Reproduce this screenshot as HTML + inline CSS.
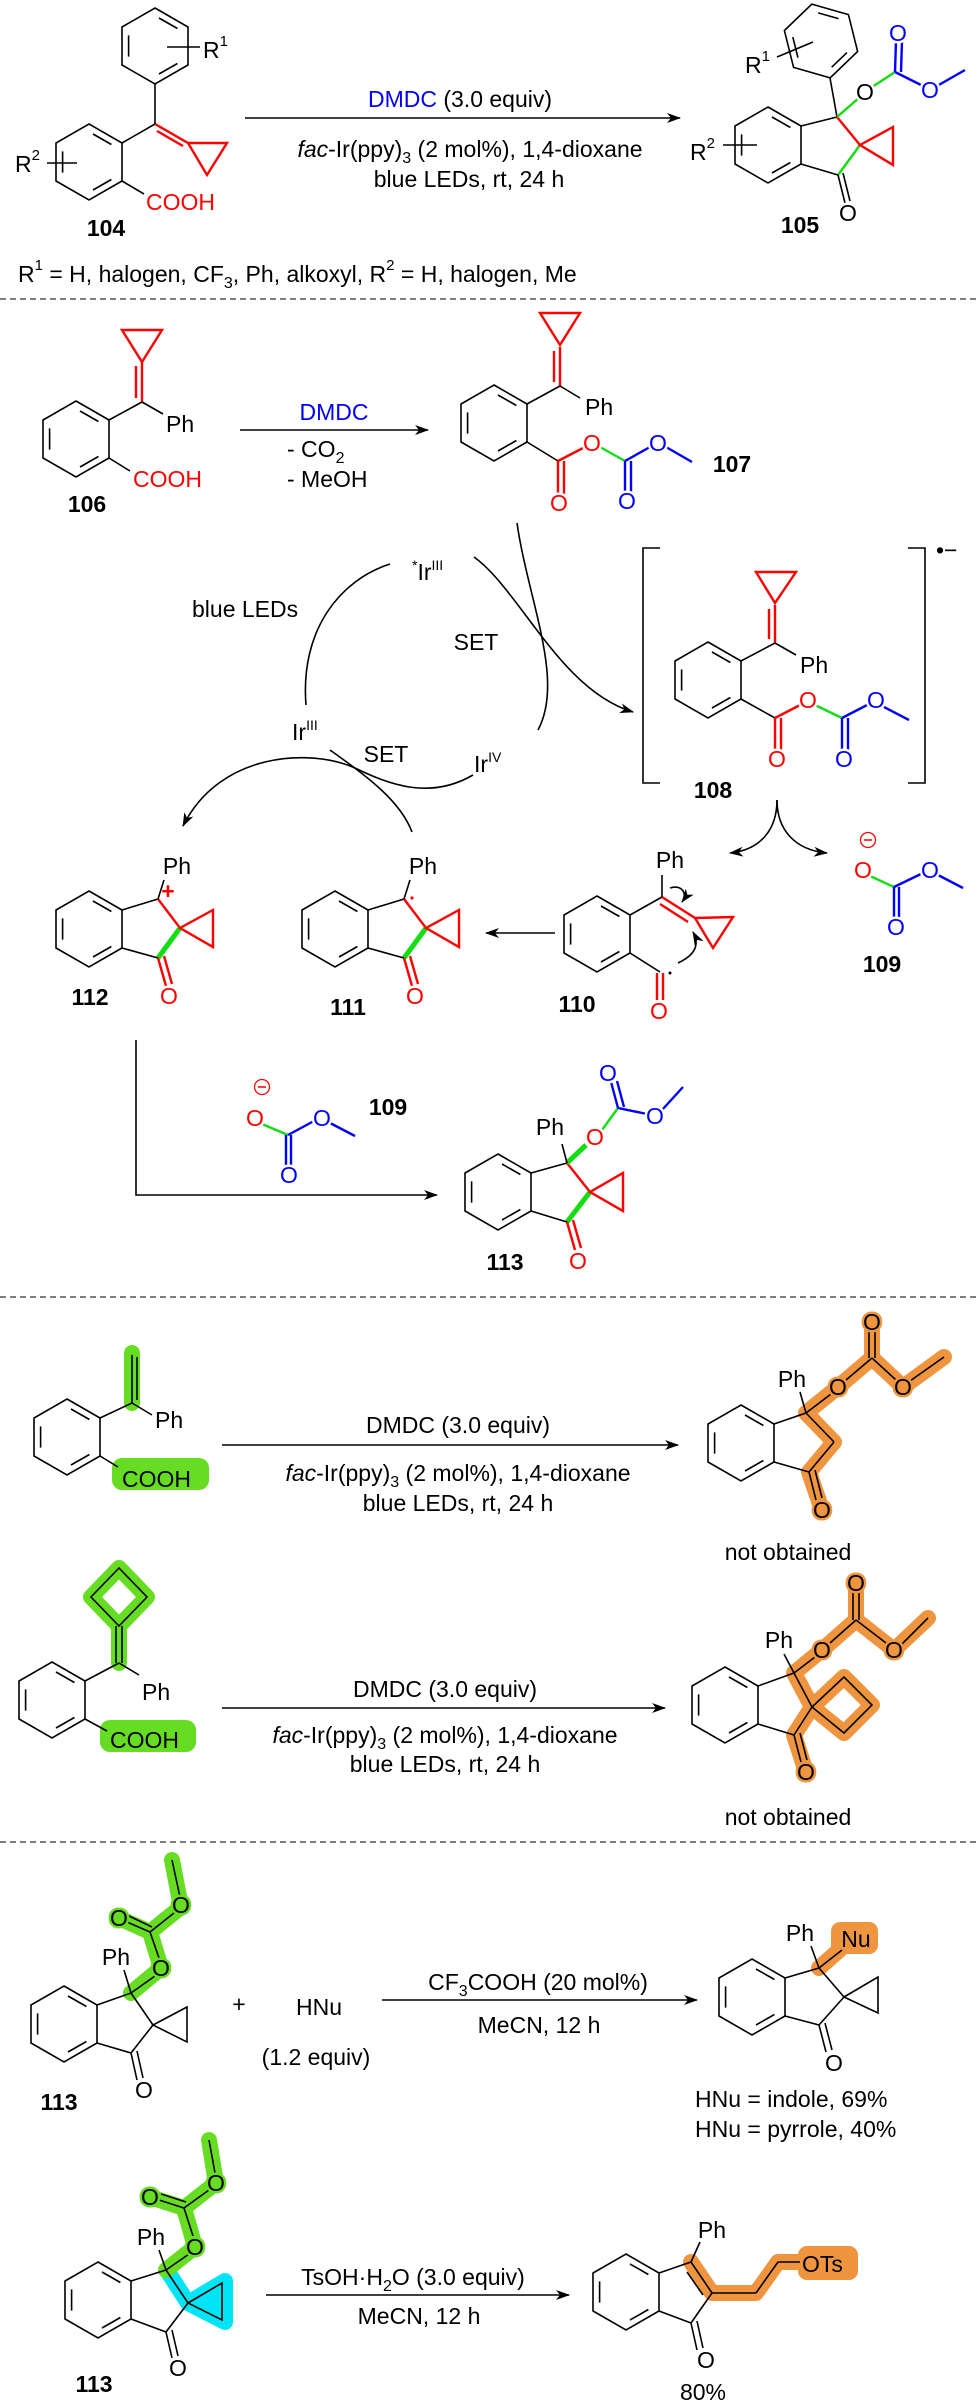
<!DOCTYPE html>
<html><head><meta charset="utf-8"><style>
html,body{margin:0;padding:0;background:#fff}
svg{display:block}
text{font-family:"Liberation Sans",Arial,sans-serif;font-size:23px}
.b{font-weight:bold}
.a{text-anchor:middle;dominant-baseline:central;paint-order:stroke;stroke:#fff;stroke-width:5px}
.m{text-anchor:middle}
.k{stroke:#000;stroke-width:1.6;fill:none}
.r{stroke:#f00;stroke-width:2.4;fill:none}
.bl{stroke:#00f;stroke-width:2.4;fill:none}
.g{stroke:#11dd11;stroke-width:2.4;fill:none}
.G{stroke:#11dd11;stroke-width:5;fill:none}
.hg{stroke:#66dd22;stroke-width:16;fill:none;stroke-linecap:round;stroke-linejoin:round}
.ho{stroke:#f0953f;stroke-width:16;fill:none;stroke-linecap:round;stroke-linejoin:round}
.hc{stroke:#00e5f5;stroke-width:16;fill:#00e5f5;stroke-linecap:round;stroke-linejoin:round}
.dash{stroke:#555;stroke-width:1.5;stroke-dasharray:6,4}
</style></head><body>
<svg width="980" height="2404" viewBox="0 0 980 2404" xmlns="http://www.w3.org/2000/svg">
<defs>
<g id="bz" fill="none" stroke="#000" stroke-width="1.6">
<polygon points="0,-38 33,-19 33,19 0,38 -33,19 -33,-19"/>
<line x1="4" y1="-28" x2="22.4" y2="-17.5"/>
<line x1="22.4" y1="17.5" x2="4" y2="28"/>
<line x1="-26.4" y1="10.6" x2="-26.4" y2="-10.6"/>
</g>
<marker id="ah" markerWidth="14" markerHeight="10" refX="13" refY="5" orient="auto" markerUnits="userSpaceOnUse"><path d="M0,0 L14,5 L0,10 L4,5Z" fill="#000"/></marker>
</defs>

<!-- ===== Section 1 ===== -->
<use href="#bz" x="155" y="46"/>
<line class="k" x1="167" y1="47" x2="200" y2="47"/>
<text x="203" y="58">R<tspan font-size="15" dy="-12">1</tspan></text>
<line class="k" x1="155" y1="84" x2="155" y2="124"/>
<use href="#bz" x="89" y="162"/>
<line class="k" x1="122" y1="143" x2="155" y2="124"/>
<line class="r" x1="155" y1="124" x2="188" y2="143"/>
<line class="r" x1="157" y1="131" x2="183" y2="146"/>
<polygon class="r" points="188,143 227,143 207,175"/>
<line class="k" x1="122" y1="181" x2="144" y2="194"/>
<text x="146" y="210" fill="#f00">COOH</text>
<text x="15" y="172">R<tspan font-size="15" dy="-12">2</tspan></text>
<line class="k" x1="47" y1="163" x2="77" y2="163"/>
<text x="106" y="236" class="b m">104</text>

<line class="k" x1="245" y1="118" x2="680" y2="118" marker-end="url(#ah)"/>
<text x="460" y="107" class="m"><tspan fill="#00f">DMDC</tspan> (3.0 equiv)</text>
<text x="470" y="157" class="m"><tspan font-style="italic">fac</tspan>-Ir(ppy)<tspan font-size="16" dy="6">3</tspan><tspan dy="-6"> (2 mol%), 1,4-dioxane</tspan></text>
<text x="469" y="187" class="m">blue LEDs, rt, 24 h</text>

<g transform="translate(821,41) rotate(-14)"><use href="#bz"/></g>
<line class="k" x1="830" y1="78" x2="837" y2="117"/>
<line class="k" x1="777" y1="57" x2="813" y2="42"/>
<text x="745" y="73">R<tspan font-size="15" dy="-12">1</tspan></text>
<g transform="translate(768,145)">
<use href="#bz"/>
<line class="k" x1="33" y1="-19" x2="69" y2="-28"/>
<line class="r" x1="69" y1="-28" x2="92" y2="0"/>
<line class="g" x1="92" y1="0" x2="70" y2="30"/>
<line class="k" x1="70" y1="30" x2="33" y2="19"/>
<line class="k" x1="70" y1="30" x2="77" y2="58"/>
<line class="k" x1="75" y1="28" x2="82" y2="56"/>
<polygon class="r" points="92,0 125,-18 125,20"/>
<line class="g" x1="69" y1="-28" x2="92" y2="-48"/>
<line class="g" x1="104" y1="-58" x2="127" y2="-73"/>
<line class="bl" x1="127" y1="-73" x2="128" y2="-104"/>
<line class="bl" x1="133" y1="-73" x2="134" y2="-104"/>
<line class="bl" x1="127" y1="-73" x2="155" y2="-59"/>
<line class="bl" x1="169" y1="-59" x2="197" y2="-75"/>
<text x="80" y="68" class="a">O</text>
<text x="97" y="-53" class="a">O</text>
<text x="130" y="-112" class="a" fill="#00f">O</text>
<text x="162" y="-55" class="a" fill="#00f">O</text>
</g>
<text x="690" y="160">R<tspan font-size="15" dy="-12">2</tspan></text>
<line class="k" x1="723" y1="145" x2="757" y2="145"/>
<text x="800" y="233" class="b m">105</text>
<text x="18" y="282">R<tspan font-size="15" dy="-12">1</tspan><tspan dy="12"> = H, halogen, CF</tspan><tspan font-size="16" dy="6">3</tspan><tspan dy="-6">, Ph, alkoxyl, R</tspan><tspan font-size="15" dy="-12">2</tspan><tspan dy="12"> = H, halogen, Me</tspan></text>
<line class="dash" x1="0" y1="299" x2="980" y2="299"/>

<!-- ===== Section 2 ===== -->
<use href="#bz" x="76" y="439"/>
<line class="k" x1="109" y1="420" x2="142" y2="402"/>
<line class="r" x1="142" y1="402" x2="142" y2="362"/>
<line class="r" x1="136" y1="398" x2="136" y2="366"/>
<polygon class="r" points="122,330 162,330 142,362"/>
<line class="k" x1="142" y1="402" x2="163" y2="414"/>
<text x="166" y="432">Ph</text>
<line class="k" x1="109" y1="458" x2="130" y2="471"/>
<text x="133" y="487" fill="#f00">COOH</text>
<text x="87" y="512" class="b m">106</text>
<line class="k" x1="240" y1="430" x2="428" y2="430" marker-end="url(#ah)"/>
<text x="334" y="420" class="m" fill="#00f">DMDC</text>
<text x="287" y="457">- CO<tspan font-size="16" dy="6">2</tspan></text>
<text x="287" y="487">- MeOH</text>

<use href="#bz" x="494" y="423"/>
<line class="k" x1="527" y1="404" x2="560" y2="386"/>
<line class="r" x1="560" y1="386" x2="560" y2="347"/>
<line class="r" x1="554" y1="382" x2="554" y2="351"/>
<polygon class="r" points="540,313 580,313 560,345"/>
<line class="k" x1="560" y1="386" x2="580" y2="398"/>
<text x="585" y="415">Ph</text>
<line class="k" x1="527" y1="442" x2="558" y2="461"/>
<line class="r" x1="558" y1="461" x2="558" y2="494"/>
<line class="r" x1="564" y1="461" x2="564" y2="494"/>
<line class="r" x1="558" y1="461" x2="585" y2="447"/>
<line class="g" x1="600" y1="447" x2="625" y2="461"/>
<line class="bl" x1="625" y1="461" x2="625" y2="493"/>
<line class="bl" x1="631" y1="461" x2="631" y2="493"/>
<line class="bl" x1="625" y1="461" x2="650" y2="447"/>
<line class="bl" x1="666" y1="447" x2="692" y2="462"/>
<text x="559" y="503" class="a" fill="#f00">O</text>
<text x="592" y="443" class="a" fill="#f00">O</text>
<text x="627" y="501" class="a" fill="#00f">O</text>
<text x="658" y="443" class="a" fill="#00f">O</text>
<text x="732" y="472" class="b m">107</text>

<!-- cycle -->
<path class="k" d="M390,564 C340,580 300,630 306,705"/>
<path class="k" d="M517,523 C528,600 565,680 538,730"/>
<path class="k" d="M474,557 C520,590 560,690 633,712" marker-end="url(#ah)"/>
<path class="k" d="M330,750 C365,775 400,800 412,832"/>
<path class="k" d="M473,775 C430,800 390,785 355,768 C310,748 220,752 183,826" marker-end="url(#ah)"/>
<text x="412" y="580"><tspan font-size="14" dy="-10">*</tspan><tspan dy="10">Ir</tspan><tspan font-size="14" dy="-10">III</tspan></text>
<text x="192" y="617">blue LEDs</text>
<text x="292" y="740">Ir<tspan font-size="14" dy="-10">III</tspan></text>
<text x="476" y="650" class="m">SET</text>
<text x="386" y="762" class="m">SET</text>
<text x="474" y="772">Ir<tspan font-size="14" dy="-10">IV</tspan></text>

<!-- 108 -->
<path class="k" d="M660,548 H643 V783 H660"/>
<path class="k" d="M908,548 H925 V783 H908"/>
<text x="936" y="558" font-size="18">•−</text>
<use href="#bz" x="708" y="680"/>
<line class="k" x1="741" y1="661" x2="775" y2="643"/>
<line class="r" x1="775" y1="643" x2="775" y2="605"/>
<line class="r" x1="769" y1="639" x2="769" y2="609"/>
<polygon class="r" points="756,572 796,572 775,603"/>
<line class="k" x1="775" y1="643" x2="796" y2="655"/>
<text x="800" y="673">Ph</text>
<line class="k" x1="741" y1="699" x2="775" y2="718"/>
<line class="r" x1="775" y1="718" x2="775" y2="750"/>
<line class="r" x1="781" y1="718" x2="781" y2="750"/>
<line class="r" x1="775" y1="718" x2="802" y2="704"/>
<line class="g" x1="815" y1="705" x2="842" y2="718"/>
<line class="bl" x1="842" y1="718" x2="842" y2="750"/>
<line class="bl" x1="848" y1="718" x2="848" y2="750"/>
<line class="bl" x1="842" y1="718" x2="869" y2="704"/>
<line class="bl" x1="884" y1="707" x2="909" y2="720"/>
<text x="777" y="759" class="a" fill="#f00">O</text>
<text x="808" y="700" class="a" fill="#f00">O</text>
<text x="844" y="759" class="a" fill="#00f">O</text>
<text x="876" y="700" class="a" fill="#00f">O</text>
<text x="713" y="798" class="b m">108</text>
<path class="k" d="M777,800 C777,830 760,850 730,853" marker-end="url(#ah)"/>
<path class="k" d="M777,800 C777,830 795,850 827,853" marker-end="url(#ah)"/>

<!-- 109 right -->
<circle cx="868" cy="840" r="7.5" fill="none" stroke="#f00" stroke-width="1.3"/>
<line x1="864" y1="840" x2="872" y2="840" stroke="#f00" stroke-width="1.5"/>
<line class="g" x1="870" y1="876" x2="894" y2="887"/>
<line class="bl" x1="894" y1="887" x2="894" y2="918"/>
<line class="bl" x1="899" y1="887" x2="899" y2="918"/>
<line class="bl" x1="894" y1="887" x2="923" y2="873"/>
<line class="bl" x1="938" y1="875" x2="963" y2="888"/>
<text x="863" y="870" class="a" fill="#f00">O</text>
<text x="896" y="927" class="a" fill="#00f">O</text>
<text x="930" y="870" class="a" fill="#00f">O</text>
<text x="882" y="972" class="b m">109</text>

<!-- 110 -->
<use href="#bz" x="597" y="934"/>
<line class="k" x1="630" y1="915" x2="662" y2="897"/>
<line class="k" x1="662" y1="897" x2="662" y2="875"/>
<text x="670" y="868" class="m">Ph</text>
<line class="r" x1="662" y1="897" x2="695" y2="918"/>
<line class="r" x1="660" y1="904" x2="688" y2="922"/>
<polygon class="r" points="695,918 733,917 713,948"/>
<line class="k" x1="630" y1="953" x2="660" y2="972"/>
<line class="r" x1="657" y1="973" x2="657" y2="1000"/>
<line class="r" x1="663" y1="973" x2="663" y2="1000"/>
<text x="659" y="1011" class="a" fill="#f00">O</text>
<circle cx="670" cy="973" r="1.5" fill="#000"/>
<path class="k" stroke-width="1.2" d="M670,888 C682,884 688,894 682,902" marker-end="url(#ah)"/>
<path class="k" stroke-width="1.2" d="M678,963 C695,955 700,945 693,932" marker-end="url(#ah)"/>
<text x="577" y="1012" class="b m">110</text>
<line class="k" x1="555" y1="933" x2="486" y2="933" marker-end="url(#ah)"/>

<!-- 111 -->
<g transform="translate(335,929)">
<use href="#bz"/>
<line class="k" x1="33" y1="-19" x2="69" y2="-30"/>
<line class="r" x1="69" y1="-30" x2="91" y2="-1"/>
<line class="G" x1="91" y1="-1" x2="69" y2="29"/>
<line class="k" x1="69" y1="29" x2="33" y2="19"/>
<line class="r" x1="69" y1="29" x2="77" y2="57"/>
<line class="r" x1="75" y1="27" x2="83" y2="55"/>
<polygon class="r" points="91,-1 124,-19 124,18"/>
<line class="k" x1="69" y1="-30" x2="75" y2="-49"/>
<text x="88" y="-55" class="m">Ph</text>
<text x="80" y="67" class="a" fill="#f00">O</text>
<circle cx="77" cy="-31" r="1.6" fill="#f00"/>
</g>
<text x="348" y="1015" class="b m">111</text>

<!-- 112 -->
<g transform="translate(89,929)">
<use href="#bz"/>
<line class="k" x1="33" y1="-19" x2="69" y2="-30"/>
<line class="r" x1="69" y1="-30" x2="91" y2="-1"/>
<line class="G" x1="91" y1="-1" x2="69" y2="29"/>
<line class="k" x1="69" y1="29" x2="33" y2="19"/>
<line class="r" x1="69" y1="29" x2="77" y2="57"/>
<line class="r" x1="75" y1="27" x2="83" y2="55"/>
<polygon class="r" points="91,-1 124,-19 124,18"/>
<line class="k" x1="69" y1="-30" x2="75" y2="-49"/>
<text x="88" y="-55" class="m">Ph</text>
<text x="80" y="67" class="a" fill="#f00">O</text>
<text x="79" y="-30" class="m b" fill="#f00" font-size="16">+</text>
</g>
<text x="90" y="1005" class="b m">112</text>

<path class="k" d="M136,1040 V1195 H437" marker-end="url(#ah)"/>
<!-- 109 mid -->
<circle cx="262" cy="1087" r="7.5" fill="none" stroke="#f00" stroke-width="1.3"/>
<line x1="258" y1="1087" x2="266" y2="1087" stroke="#f00" stroke-width="1.5"/>
<line class="g" x1="262" y1="1124" x2="288" y2="1135"/>
<line class="bl" x1="286" y1="1135" x2="286" y2="1166"/>
<line class="bl" x1="291" y1="1135" x2="291" y2="1166"/>
<line class="bl" x1="288" y1="1135" x2="314" y2="1121"/>
<line class="bl" x1="330" y1="1123" x2="355" y2="1136"/>
<text x="255" y="1118" class="a" fill="#f00">O</text>
<text x="289" y="1175" class="a" fill="#00f">O</text>
<text x="322" y="1118" class="a" fill="#00f">O</text>
<text x="388" y="1115" class="b m">109</text>

<!-- 113 main -->
<g transform="translate(498,1192)">
<use href="#bz"/>
<line class="k" x1="33" y1="-19" x2="69" y2="-29"/>
<line class="r" x1="69" y1="-29" x2="92" y2="0"/>
<line class="G" x1="92" y1="0" x2="69" y2="30"/>
<line class="k" x1="69" y1="30" x2="33" y2="19"/>
<line class="r" x1="69" y1="30" x2="77" y2="58"/>
<line class="r" x1="75" y1="28" x2="83" y2="56"/>
<polygon class="r" points="92,0 125,-19 125,19"/>
<line class="G" x1="69" y1="-29" x2="88" y2="-47"/>
<line class="g" x1="104" y1="-62" x2="120" y2="-84"/>
<line class="bl" x1="120" y1="-84" x2="113" y2="-110"/>
<line class="bl" x1="126" y1="-85" x2="119" y2="-111"/>
<line class="bl" x1="120" y1="-84" x2="149" y2="-78"/>
<line class="bl" x1="164" y1="-82" x2="185" y2="-105"/>
<line class="k" x1="69" y1="-29" x2="64" y2="-48"/>
<text x="52" y="-57" class="m">Ph</text>
<text x="80" y="69" class="a" fill="#f00">O</text>
<text x="97" y="-55" class="a" fill="#f00">O</text>
<text x="110" y="-119" class="a" fill="#00f">O</text>
<text x="157" y="-76" class="a" fill="#00f">O</text>
</g>
<text x="505" y="1270" class="b m">113</text>
<line class="dash" x1="0" y1="1297" x2="980" y2="1297"/>

<!-- ===== Section 3 ===== -->
<line class="hg" x1="132" y1="1353" x2="132" y2="1403"/>
<rect x="112" y="1458" width="97" height="32" rx="10" fill="#66dd22"/>
<use href="#bz" x="67" y="1437"/>
<line class="k" x1="100" y1="1418" x2="132" y2="1403"/>
<line class="k" x1="132" y1="1403" x2="132" y2="1355"/>
<line class="k" x1="137" y1="1400" x2="137" y2="1357"/>
<line class="k" x1="132" y1="1403" x2="152" y2="1415"/>
<text x="155" y="1428">Ph</text>
<line class="k" x1="100" y1="1456" x2="118" y2="1467"/>
<text x="122" y="1487">COOH</text>
<line class="k" x1="222" y1="1445" x2="678" y2="1445" marker-end="url(#ah)"/>
<text x="458" y="1433" class="m">DMDC (3.0 equiv)</text>
<text x="458" y="1481" class="m"><tspan font-style="italic">fac</tspan>-Ir(ppy)<tspan font-size="16" dy="6">3</tspan><tspan dy="-6"> (2 mol%), 1,4-dioxane</tspan></text>
<text x="458" y="1511" class="m">blue LEDs, rt, 24 h</text>

<path class="ho" d="M806,1413 L838,1387 L872,1358 L872,1322 M872,1358 L903,1387 L944,1357 M806,1413 L834,1442 L809,1472 L822,1510"/>
<use href="#bz" x="741" y="1443"/>
<line class="k" x1="774" y1="1424" x2="806" y2="1413"/>
<line class="k" x1="806" y1="1413" x2="834" y2="1442"/>
<line class="k" x1="834" y1="1442" x2="809" y2="1472"/>
<line class="k" x1="809" y1="1472" x2="774" y2="1462"/>
<line class="k" x1="809" y1="1472" x2="816" y2="1500"/>
<line class="k" x1="815" y1="1470" x2="822" y2="1498"/>
<line class="k" x1="806" y1="1413" x2="831" y2="1394"/>
<line class="k" x1="846" y1="1380" x2="872" y2="1358"/>
<line class="k" x1="869" y1="1358" x2="869" y2="1332"/>
<line class="k" x1="875" y1="1358" x2="875" y2="1332"/>
<line class="k" x1="872" y1="1358" x2="896" y2="1380"/>
<line class="k" x1="910" y1="1381" x2="944" y2="1357"/>
<line class="k" x1="806" y1="1413" x2="800" y2="1392"/>
<text x="792" y="1387" class="m">Ph</text>
<text x="822" y="1510" class="a" style="stroke:#f0953f">O</text>
<text x="838" y="1387" class="a" style="stroke:#f0953f">O</text>
<text x="872" y="1322" class="a" style="stroke:#f0953f">O</text>
<text x="903" y="1387" class="a" style="stroke:#f0953f">O</text>
<text x="788" y="1560" class="m">not obtained</text>

<path class="hg" d="M119,1568 L147,1597 L119,1626 L91,1597 Z M119,1626 L119,1663"/>
<polygon class="k" points="119,1568 147,1597 119,1626 91,1597"/>
<rect x="100" y="1720" width="96" height="32" rx="10" fill="#66dd22"/>
<line class="k" x1="116" y1="1626" x2="116" y2="1663"/>
<line class="k" x1="122" y1="1626" x2="122" y2="1663"/>
<use href="#bz" x="52" y="1700"/>
<line class="k" x1="85" y1="1681" x2="119" y2="1663"/>
<line class="k" x1="119" y1="1663" x2="139" y2="1675"/>
<text x="142" y="1700">Ph</text>
<line class="k" x1="85" y1="1719" x2="107" y2="1731"/>
<text x="110" y="1748">COOH</text>
<line class="k" x1="222" y1="1708" x2="665" y2="1708" marker-end="url(#ah)"/>
<text x="445" y="1697" class="m">DMDC (3.0 equiv)</text>
<text x="445" y="1743" class="m"><tspan font-style="italic">fac</tspan>-Ir(ppy)<tspan font-size="16" dy="6">3</tspan><tspan dy="-6"> (2 mol%), 1,4-dioxane</tspan></text>
<text x="445" y="1772" class="m">blue LEDs, rt, 24 h</text>

<path class="ho" d="M794,1673 L822,1650 L856,1620 L856,1583 M856,1620 L894,1650 L928,1618 M794,1673 L812,1707 L794,1735 L806,1772 M812,1707 L844,1677 L872,1705 L844,1733 Z"/>
<use href="#bz" x="725" y="1705"/>
<line class="k" x1="758" y1="1686" x2="794" y2="1673"/>
<line class="k" x1="794" y1="1673" x2="812" y2="1707"/>
<line class="k" x1="812" y1="1707" x2="794" y2="1735"/>
<line class="k" x1="794" y1="1735" x2="758" y2="1724"/>
<line class="k" x1="794" y1="1735" x2="801" y2="1762"/>
<line class="k" x1="800" y1="1733" x2="807" y2="1760"/>
<polygon class="k" points="812,1707 844,1677 872,1705 844,1733"/>
<line class="k" x1="794" y1="1673" x2="815" y2="1657"/>
<line class="k" x1="830" y1="1643" x2="856" y2="1620"/>
<line class="k" x1="853" y1="1620" x2="853" y2="1593"/>
<line class="k" x1="859" y1="1620" x2="859" y2="1593"/>
<line class="k" x1="856" y1="1620" x2="886" y2="1643"/>
<line class="k" x1="902" y1="1644" x2="928" y2="1618"/>
<line class="k" x1="794" y1="1673" x2="784" y2="1654"/>
<text x="779" y="1648" class="m">Ph</text>
<text x="806" y="1772" class="a" style="stroke:#f0953f">O</text>
<text x="822" y="1650" class="a" style="stroke:#f0953f">O</text>
<text x="856" y="1583" class="a" style="stroke:#f0953f">O</text>
<text x="894" y="1650" class="a" style="stroke:#f0953f">O</text>
<text x="788" y="1825" class="m">not obtained</text>
<line class="dash" x1="0" y1="1842" x2="980" y2="1842"/>

<!-- ===== Section 4 ===== -->
<path class="hg" d="M131,1993 L161,1968 L150,1932 L119,1918 M150,1932 L181,1907 L172,1860"/>
<use href="#bz" x="64" y="2024"/>
<line class="k" x1="97" y1="2005" x2="131" y2="1993"/>
<line class="k" x1="131" y1="1993" x2="153" y2="2025"/>
<line class="k" x1="153" y1="2025" x2="131" y2="2053"/>
<line class="k" x1="131" y1="2053" x2="97" y2="2043"/>
<line class="k" x1="131" y1="2053" x2="137" y2="2080"/>
<line class="k" x1="137" y1="2051" x2="143" y2="2078"/>
<polygon class="k" points="153,2025 187,2007 187,2042"/>
<line class="k" x1="131" y1="1993" x2="155" y2="1976"/>
<line class="k" x1="159" y1="1958" x2="150" y2="1932"/>
<line class="k" x1="150" y1="1932" x2="127" y2="1922"/>
<line class="k" x1="152" y1="1927" x2="129" y2="1916"/>
<line class="k" x1="150" y1="1932" x2="174" y2="1913"/>
<line class="k" x1="180" y1="1897" x2="172" y2="1860"/>
<line class="k" x1="131" y1="1993" x2="124" y2="1970"/>
<text x="116" y="1965" class="m">Ph</text>
<text x="144" y="2090" class="a">O</text>
<text x="161" y="1968" class="a" style="stroke:#66dd22">O</text>
<text x="119" y="1918" class="a" style="stroke:#66dd22">O</text>
<text x="181" y="1905" class="a" style="stroke:#66dd22">O</text>
<text x="59" y="2110" class="b m">113</text>
<text x="239" y="2012" class="m">+</text>
<text x="319" y="2015" class="m">HNu</text>
<text x="316" y="2065" class="m">(1.2 equiv)</text>
<line class="k" x1="382" y1="2000" x2="697" y2="2000" marker-end="url(#ah)"/>
<text x="538" y="1990" class="m">CF<tspan font-size="16" dy="6">3</tspan><tspan dy="-6">COOH (20 mol%)</tspan></text>
<text x="539" y="2033" class="m">MeCN, 12 h</text>

<path class="ho" d="M819,1968 L845,1945"/>
<rect x="831" y="1922" width="47" height="32" rx="9" fill="#f0953f"/>
<use href="#bz" x="752" y="1997"/>
<line class="k" x1="785" y1="1978" x2="819" y2="1968"/>
<line class="k" x1="819" y1="1968" x2="844" y2="1997"/>
<line class="k" x1="844" y1="1997" x2="819" y2="2025"/>
<line class="k" x1="819" y1="2025" x2="785" y2="2016"/>
<line class="k" x1="819" y1="2025" x2="826" y2="2052"/>
<line class="k" x1="825" y1="2023" x2="832" y2="2050"/>
<polygon class="k" points="844,1997 878,1977 878,2013"/>
<line class="k" x1="819" y1="1968" x2="842" y2="1950"/>
<line class="k" x1="819" y1="1968" x2="811" y2="1946"/>
<text x="800" y="1941" class="m">Ph</text>
<text x="856" y="1947" class="m">Nu</text>
<text x="834" y="2063" class="a">O</text>
<text x="695" y="2107">HNu = indole, 69%</text>
<text x="695" y="2137">HNu = pyrrole, 40%</text>

<path class="hc" d="M168,2272 L188,2303 M188,2303 L225,2281 L225,2322 Z"/>
<path class="hg" d="M166,2270 L195,2247 L184,2208 L150,2197 M184,2208 L216,2183 L209,2140"/>
<use href="#bz" x="98" y="2300"/>
<line class="k" x1="131" y1="2281" x2="166" y2="2270"/>
<line class="k" x1="166" y1="2270" x2="188" y2="2303"/>
<line class="k" x1="188" y1="2303" x2="166" y2="2332"/>
<line class="k" x1="166" y1="2332" x2="131" y2="2319"/>
<line class="k" x1="166" y1="2332" x2="172" y2="2358"/>
<line class="k" x1="172" y1="2330" x2="178" y2="2356"/>
<polygon class="k" points="188,2303 222,2283 222,2320"/>
<line class="k" x1="166" y1="2270" x2="189" y2="2254"/>
<line class="k" x1="193" y1="2236" x2="184" y2="2208"/>
<line class="k" x1="184" y1="2208" x2="159" y2="2200"/>
<line class="k" x1="186" y1="2202" x2="161" y2="2194"/>
<line class="k" x1="184" y1="2208" x2="209" y2="2190"/>
<line class="k" x1="215" y1="2173" x2="209" y2="2140"/>
<line class="k" x1="166" y1="2270" x2="159" y2="2250"/>
<text x="151" y="2245" class="m">Ph</text>
<text x="178" y="2368" class="a">O</text>
<text x="195" y="2247" class="a" style="stroke:#66dd22">O</text>
<text x="150" y="2197" class="a" style="stroke:#66dd22">O</text>
<text x="216" y="2183" class="a" style="stroke:#66dd22">O</text>
<text x="94" y="2392" class="b m">113</text>
<line class="k" x1="266" y1="2295" x2="569" y2="2295" marker-end="url(#ah)"/>
<text x="413" y="2285" class="m">TsOH·H<tspan font-size="16" dy="6">2</tspan><tspan dy="-6">O (3.0 equiv)</tspan></text>
<text x="419" y="2324" class="m">MeCN, 12 h</text>

<path class="ho" d="M691,2262 L712,2293 L756,2293 L778,2262 L800,2262"/>
<rect x="798" y="2246" width="60" height="34" rx="9" fill="#f0953f"/>
<use href="#bz" x="626" y="2292"/>
<line class="k" x1="659" y1="2273" x2="691" y2="2262"/>
<line class="k" x1="691" y1="2262" x2="712" y2="2293"/>
<line class="k" x1="687" y1="2272" x2="703" y2="2295"/>
<line class="k" x1="712" y1="2293" x2="691" y2="2323"/>
<line class="k" x1="691" y1="2323" x2="659" y2="2311"/>
<line class="k" x1="691" y1="2323" x2="697" y2="2350"/>
<line class="k" x1="697" y1="2321" x2="703" y2="2348"/>
<line class="k" x1="712" y1="2293" x2="756" y2="2293"/>
<line class="k" x1="756" y1="2293" x2="778" y2="2262"/>
<line class="k" x1="778" y1="2262" x2="800" y2="2262"/>
<line class="k" x1="691" y1="2262" x2="700" y2="2242"/>
<text x="712" y="2238" class="m">Ph</text>
<text x="802" y="2272">OTs</text>
<text x="706" y="2360" class="a">O</text>
<text x="703" y="2400" class="m">80%</text>
</svg>
</body></html>
